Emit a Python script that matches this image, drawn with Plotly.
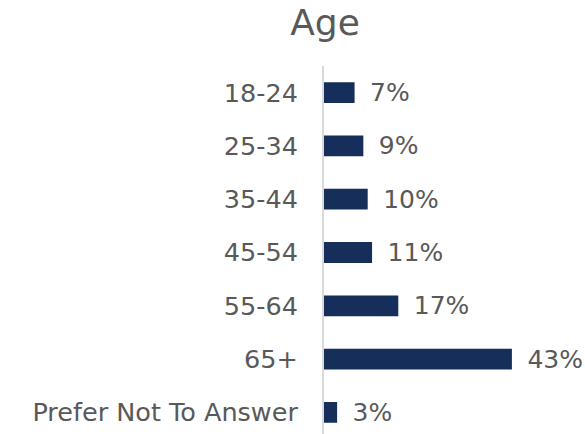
import plotly.graph_objects as go

categories = ["18-24", "25-34", "35-44", "45-54", "55-64", "65+", "Prefer Not To Answer"]
values = [7, 9, 10, 11, 17, 43, 3]
labels = ["7%", "9%", "10%", "11%", "17%", "43%", "3%"]

font_family = "DejaVu Sans"
gray = "#595959"

fig = go.Figure(go.Bar(
    x=values,
    y=categories,
    orientation="h",
    marker=dict(color="#152e5a", line=dict(width=0)),
    width=0.39,
    text=["\u2002" + t for t in labels],
    textposition="outside",
    constraintext="none",
    textfont=dict(family=font_family, size=25, color=gray),
    cliponaxis=False,
    hoverinfo="skip",
))

fig.update_layout(
    width=585, height=439,
    margin=dict(l=324, r=15, t=66, b=0),
    paper_bgcolor="white", plot_bgcolor="white",
    showlegend=False,
    title=dict(text="Age", x=325/585, xref="container", xanchor="center",
               y=1 - 22/439, yref="container", yanchor="middle",
               font=dict(family=font_family, size=36, color=gray)),
    xaxis=dict(range=[0, 56.3], visible=False, showgrid=False, zeroline=False),
    yaxis=dict(autorange="reversed", showgrid=False, zeroline=False,
               showline=True, linecolor="#d9d9d9", linewidth=2,
               ticks="", ticklabelstandoff=19,
               tickfont=dict(family=font_family, size=25.5, color=gray)),
)

fig.write_html("out.html", config={"displayModeBar": False},
               post_script="document.body.style.margin='0';document.body.style.padding='0';document.body.style.overflow='hidden';")
